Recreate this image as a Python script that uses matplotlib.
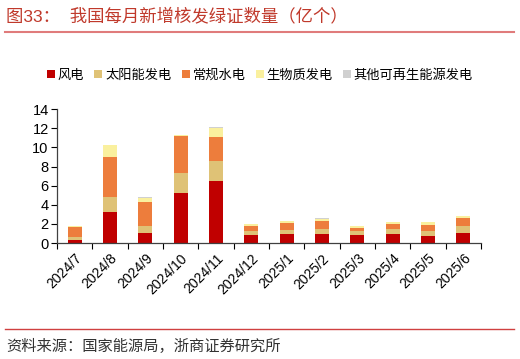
import numpy as np
from matplotlib import pyplot as plt

plt.rcParams['font.family'] = ['Liberation Sans', 'Noto Sans CJK SC', 'DejaVu Sans']

months = ['2024/7', '2024/8', '2024/9', '2024/10', '2024/11', '2024/12',
          '2025/1', '2025/2', '2025/3', '2025/4', '2025/5', '2025/6']
wind = [0.30, 3.24, 1.02, 5.28, 6.50, 0.81, 0.91, 0.95, 0.81, 0.98, 0.77, 1.06]
solar = [0.37, 1.58, 0.77, 2.00, 2.08, 0.46, 0.43, 0.49, 0.46, 0.46, 0.50, 0.77]
hydro = [0.98, 4.22, 2.54, 3.91, 2.46, 0.49, 0.74, 0.88, 0.31, 0.56, 0.63, 0.81]
biomass = [0.10, 1.20, 0.42, 0.10, 1.04, 0.18, 0.20, 0.22, 0.15, 0.15, 0.25, 0.14]
other = [0.04, 0.03, 0.03, 0.04, 0.02, 0.03, 0.04, 0.03, 0.03, 0.03, 0.03, 0.03]

series = [('风电', wind, '#C00000'),
          ('太阳能发电', solar, '#DFC276'),
          ('常规水电', hydro, '#ED7D3C'),
          ('生物质发电', biomass, '#FAF09E'),
          ('其他可再生能源发电', other, '#D0D0D0')]

fig = plt.figure(figsize=(5.2, 3.59), dpi=100)
ax = fig.add_axes([0.1096, 0.323, 0.8154, 0.373])

x = np.arange(len(months))
bottom = np.zeros(len(months))
for name, vals, color in series:
    ax.bar(x, vals, 0.4, bottom=bottom, color=color, label=name, linewidth=0)
    bottom += np.array(vals)

ax.set_xlim(-0.5, len(months) - 0.5)
ax.set_ylim(0, 14)
ax.set_yticks(range(0, 15, 2))
ax.set_xticks(x)
ax.set_xticklabels(months, rotation=45, ha='right', rotation_mode='anchor')
ax.set_xticks(np.arange(-0.5, len(months)), minor=True)
ax.tick_params(axis='x', which='major', length=0, labelsize=10, pad=6)
ax.tick_params(axis='x', which='minor', length=4, width=0.8, direction='out')
ax.tick_params(axis='y', length=4, width=0.8, labelsize=10.5, pad=2)
for side in ['top', 'right']:
    ax.spines[side].set_visible(False)
for side in ['left', 'bottom']:
    ax.spines[side].set_color('#404040')
    ax.spines[side].set_linewidth(0.9)

fig.legend(loc='center', bbox_to_anchor=(0.5, 0.79), ncol=5, frameon=False,
           fontsize=9.5, handlelength=0.6, handleheight=0.6, handletextpad=0.2,
           columnspacing=0.8)

fig.text(0.012, 0.955, '图33：  我国每月新增核发绿证数量（亿个）', color='#C0392B',
         fontsize=12.5, va='center')
fig.add_artist(plt.Line2D([0.01, 0.988], [0.912, 0.912], color='#E07B7B',
                          linewidth=1.5))
fig.add_artist(plt.Line2D([0.01, 0.988], [0.083, 0.083], color='#D04040',
                          linewidth=1.0))
fig.text(0.012, 0.035, '资料来源：国家能源局，浙商证券研究所', color='#333333',
         fontsize=11, va='center')

fig.savefig('out.png', dpi=100)
